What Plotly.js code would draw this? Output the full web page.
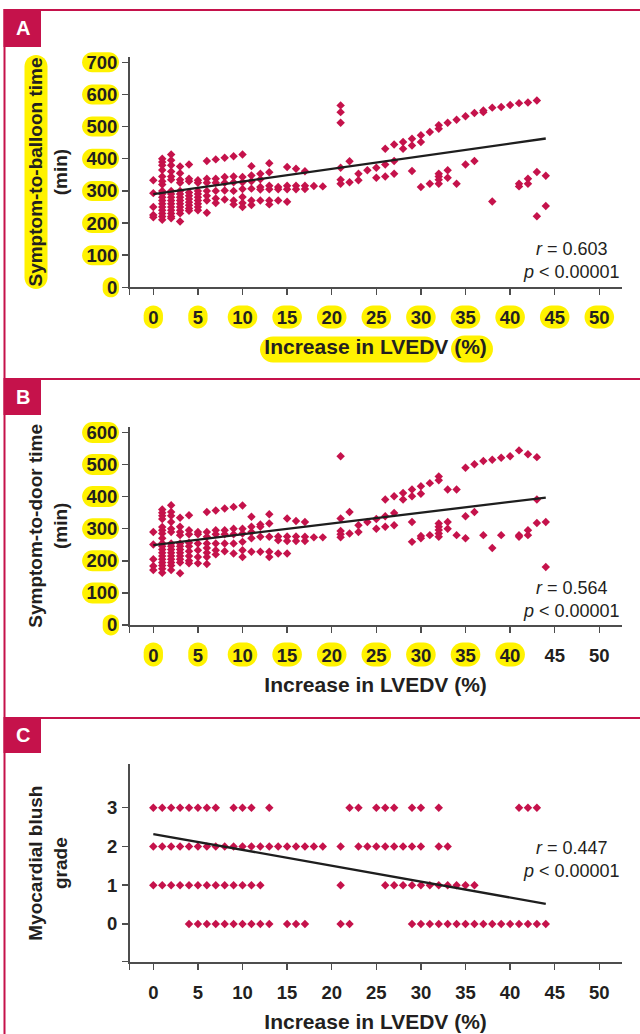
<!DOCTYPE html>
<html><head><meta charset="utf-8">
<script src="https://cdn.plot.ly/plotly-3.0.1.min.js"></script>
<style>html,body{margin:0;padding:0;background:#fff}#chart{width:640px;height:1034px}</style>
</head><body><div id="chart"></div>
<script>
// ---------- DATA ----------
// Panel A: symptom-to-balloon time (min) by increase in LVEDV (%)
const aX = [0,1,2,3,4,5,6,7,8,9,10,11,12,13,14,15,16,17,18,19,21,22,23,24,25,26,27,28,29,30,31,32,33,34,35,36,37,38,39,40,41,42,43,44];
const aY = [
 [333,293,250,225,218],
 [400,390,380,365,345,330,320,300,290,280,270,260,250,240,230,220,210],
 [413,395,380,360,345,335,300,290,280,270,260,250,240,230,220,215],
 [376,355,335,325,300,290,280,270,260,250,240,230,205],
 [382,338,330,295,285,275,265,255,245,238],
 [333,325,300,290,280,270,260,250,240],
 [393,338,325,300,285,270,232],
 [398,338,325,300,276,262],
 [403,343,325,301,273],
 [408,345,327,300,270,258],
 [413,343,327,306,281,262,250],
 [377,348,330,307,270,256],
 [353,336,312,304,270],
 [386,358,316,305,270,258],
 [312,305,270],
 [374,316,305,266],
 [369,316,305],
 [361,316,306],
 [315],
 [314],
 [566,545,512,372,335,322],
 [392,327],
 [353,333],
 [364],
 [372,341],
 [431,382,345],
 [444,393,353],
 [452,431],
 [462,441,362],
 [473,452,312],
 [483,322],
 [504,493,353,345,335,322],
 [512,364,341],
 [521,322],
 [532,382],
 [542,393],
 [550,545],
 [559,267],
 [561],
 [567],
 [573,322,314],
 [575,338,322],
 [581,359,221],
 [347,253]
];
const aFitX = [0, 44];
const aFitY = [290, 463];

// Panel B: symptom-to-door time (min)
const bX = [0,1,2,3,4,5,6,7,8,9,10,11,12,13,14,15,16,17,18,19,21,22,23,24,25,26,27,28,29,30,31,32,33,34,35,36,37,38,39,40,41,42,43,44];
const bY = [
 [290,251,205,184,171],
 [360,350,340,330,305,295,285,270,255,245,235,225,215,205,195,185,175,163],
 [373,352,340,321,300,290,254,245,235,225,215,205,195,185,171],
 [334,306,290,280,254,245,235,225,215,205,195,161],
 [342,295,283,256,245,230,215,200,192],
 [290,283,254,233,212,192],
 [352,290,275,254,240,225,212,190],
 [357,295,283,254,233,220],
 [363,295,283,254,230],
 [368,300,283,254,223],
 [372,300,285,259,233,212],
 [337,306,290,270,228],
 [313,306,275,228],
 [345,316,275,228,212],
 [276,264,223],
 [332,276,262,223],
 [324,276,262],
 [321,275,262],
 [273],
 [273],
 [526,332,293,283,273],
 [352,285],
 [311,290],
 [321],
 [330,300],
 [391,339,306],
 [401,349,311],
 [411,391],
 [422,401,321,259],
 [432,409,277,270],
 [442,280],
 [463,451,316,306,296,285,275],
 [422,321,300],
 [422,280],
 [490,339,270],
 [501,352],
 [511,280],
 [515,240],
 [521,280],
 [526],
 [544,280,275],
 [532,295,280],
 [523,391,318],
 [321,181]
];
const bFitX = [0, 44];
const bFitY = [249, 397];

// Panel C: myocardial blush grade (x positions per grade)
const cGrades = [3, 2, 1, 0];
const cXByGrade = [
 [0,1,2,3,4,5,6,7,9,10,11,13,22,23,25,26,27,29,30,32,41,42,43],
 [0,1,2,3,4,5,6,7,8,9,10,11,12,13,14,15,16,17,18,19,21,23,24,25,26,27,28,29,30,32,33],
 [0,1,2,3,4,5,6,7,8,9,10,11,12,21,26,27,28,29,30,31,32,33,34,35,36],
 [4,5,6,7,8,9,10,11,12,13,15,16,17,21,22,29,30,31,32,33,34,35,36,37,38,39,40,41,42,43,44]
];
const cFitX = [0, 44];
const cFitY = [2.32, 0.52];

const xTicks = [0,5,10,15,20,25,30,35,40,45,50];
const aYTicks = [0,100,200,300,400,500,600,700];
const bYTicks = [0,100,200,300,400,500,600];
const cYTicks = [0,1,2,3];

const statsA = ['0.603', '0.00001'];
const statsB = ['0.564', '0.00001'];
const statsC = ['0.447', '0.00001'];

// ---------- STYLE / GEOMETRY ----------
const W = 640, H = 1034;
const RED = '#c5124b', AXC = '#4d4d4d', TXT = '#231f20', YEL = '#fff200';
const FONT = 'Liberation Sans, Arial, Helvetica, sans-serif';
const X_PX = [129.5, 621.7];
const X_RANGE = [-2.67, 52.51];
const A_PX = [287.3, 56.7], A_RANGE = [0, 717.5];
const B_PX = [625.0, 426.7], B_RANGE = [0, 617.8];
const C_PX = [962.0, 764.3], C_RANGE = [-0.98, 4.118];

const px2fx = p => p / W;
const px2fy = p => 1 - p / H;
const xPx = v => X_PX[0] + (v - X_RANGE[0]) / (X_RANGE[1] - X_RANGE[0]) * (X_PX[1] - X_PX[0]);
const yPx = (v, P, R) => P[0] - (v - R[0]) / (R[1] - R[0]) * (P[0] - P[1]);

function flat(xs, ys) {
  const X = [], Y = [];
  xs.forEach((x, i) => ys[i].forEach(y => { X.push(x); Y.push(y); }));
  return {X, Y};
}
const A = flat(aX, aY), B = flat(bX, bY);
const CX = [], CY = [];
cGrades.forEach((g, i) => cXByGrade[i].forEach(x => { CX.push(x); CY.push(g); }));

const marker = {symbol: 'diamond', size: 6.5, color: RED, line: {width: 0}};
const fitLine = {color: '#1e1e1e', width: 2.3};

const traces = [
  {x: A.X, y: A.Y, xaxis: 'x', yaxis: 'y', type: 'scatter', mode: 'markers', marker, hoverinfo: 'skip'},
  {x: aFitX, y: aFitY, xaxis: 'x', yaxis: 'y', type: 'scatter', mode: 'lines', line: fitLine},
  {x: B.X, y: B.Y, xaxis: 'x2', yaxis: 'y2', type: 'scatter', mode: 'markers', marker, hoverinfo: 'skip'},
  {x: bFitX, y: bFitY, xaxis: 'x2', yaxis: 'y2', type: 'scatter', mode: 'lines', line: fitLine},
  {x: CX, y: CY, xaxis: 'x3', yaxis: 'y3', type: 'scatter', mode: 'markers', marker, hoverinfo: 'skip'},
  {x: cFitX, y: cFitY, xaxis: 'x3', yaxis: 'y3', type: 'scatter', mode: 'lines', line: fitLine}
];

const tickFont = {family: FONT, size: 18.5, color: TXT, weight: 'bold'};
const titleFont = {family: FONT, size: 21, color: TXT, weight: 'bold'};
const common = {
  showgrid: false, zeroline: false, showline: true, linecolor: AXC, linewidth: 1.5,
  ticks: 'outside', ticklen: 6, tickwidth: 1.5, tickcolor: AXC, tickfont: tickFont,
  fixedrange: true, tickmode: 'array'
};
const xDomain = [px2fx(X_PX[0]), px2fx(X_PX[1])];
function xAxis(anchor) {
  return Object.assign({}, common, {
    domain: xDomain, range: X_RANGE, anchor,
    tickvals: [X_RANGE[0] + 0.01].concat(xTicks),
    ticktext: [''].concat(xTicks.map(String)),
    ticklabelstandoff: 7,
    title: {text: 'Increase in LVEDV (%)', font: titleFont, standoff: 12}
  });
}
function yAxis(anchor, P, R, ticks, title, extra, standoff) {
  const tv = extra ? [R[0] + 0.01].concat(ticks) : ticks;
  const tt = extra ? [''].concat(ticks.map(String)) : ticks.map(String);
  return Object.assign({}, common, {
    domain: [px2fy(P[0]), px2fy(P[1])], range: R, anchor,
    tickvals: tv, ticktext: tt, ticklabelstandoff: 1,
    title: {text: title, font: {family: FONT, size: 19, color: TXT, weight: 'bold'}, standoff}
  });
}

// ---------- DECORATION ----------
function pill(cx, cy, w, h) {
  const r = Math.min(w, h) / 2, k = 0.5523 * r;
  const x0 = -w / 2, x1 = w / 2, y0 = -h / 2, y1 = h / 2;
  const path = `M${x0 + r},${y0} L${x1 - r},${y0} C${x1 - r + k},${y0} ${x1},${y0 + r - k} ${x1},${y0 + r} ` +
    `L${x1},${y1 - r} C${x1},${y1 - r + k} ${x1 - r + k},${y1} ${x1 - r},${y1} L${x0 + r},${y1} ` +
    `C${x0 + r - k},${y1} ${x0},${y1 - r + k} ${x0},${y1 - r} L${x0},${y0 + r} C${x0},${y0 + r - k} ${x0 + r - k},${y0} ${x0 + r},${y0} Z`;
  return {type: 'path', xref: 'paper', yref: 'paper', xsizemode: 'pixel', ysizemode: 'pixel',
    xanchor: px2fx(cx), yanchor: px2fy(cy), path, fillcolor: YEL, line: {width: 0}, layer: 'below'};
}
function line(x0, y0, x1, y1, w) {
  return {type: 'line', xref: 'paper', yref: 'paper', x0: px2fx(x0), y0: px2fy(y0), x1: px2fx(x1), y1: px2fy(y1),
    line: {color: RED, width: w}, layer: 'above'};
}
function box(x0, y0, x1, y1) {
  return {type: 'rect', xref: 'paper', yref: 'paper', x0: px2fx(x0), y0: px2fy(y0), x1: px2fx(x1), y1: px2fy(y1),
    fillcolor: RED, line: {width: 0}, layer: 'above'};
}

const shapes = [];
// frame lines and panel tabs
shapes.push(line(4.5, 9, 4.5, H, 2));
shapes.push(line(4, 10, W, 10, 2));
shapes.push(line(4, 379, W, 379, 2));
shapes.push(line(4, 718, W, 718, 2));
shapes.push(box(3.5, 9, 41, 47));
shapes.push(box(3.5, 378, 41, 415));
shapes.push(box(3.5, 717, 41, 753));

// yellow highlights
const DIG = 10.3;
aYTicks.forEach(v => { const w = DIG * String(v).length + 6; shapes.push(pill(119 - w / 2, yPx(v, A_PX, A_RANGE), w, 20)); });
xTicks.forEach(v => { const w = DIG * String(v).length + 9; shapes.push(pill(xPx(v), 317, w, 23)); });
bYTicks.forEach(v => { const w = DIG * String(v).length + 6; shapes.push(pill(119 - w / 2, yPx(v, B_PX, B_RANGE), w, 21)); });
xTicks.filter(v => v <= 40).forEach(v => { const w = DIG * String(v).length + 9; shapes.push(pill(xPx(v), 654.5, w, 24)); });
shapes.push(pill(36, (A_PX[0] + A_PX[1]) / 2, 23, 234));
shapes.push(pill(349, 349.5, 178, 26));
shapes.push(pill(472, 349, 42, 27));

// annotations
const statFont = {family: FONT, size: 18, color: TXT};
function stat(s, cy) {
  return {xref: 'paper', yref: 'paper', x: px2fx(571), y: px2fy(cy), xanchor: 'center', yanchor: 'middle',
    showarrow: false, align: 'center', font: statFont,
    text: `<i>r</i> = ${s[0]}<br><i>p</i> &lt; ${s[1]}`};
}
function tab(t, cy) {
  return {xref: 'paper', yref: 'paper', x: px2fx(22.5), y: px2fy(cy), xanchor: 'center', yanchor: 'middle',
    showarrow: false, text: t, font: {family: FONT, size: 20, color: '#ffffff', weight: 'bold'}};
}
const annotations = [stat(statsA, 260), stat(statsB, 599), stat(statsC, 859), tab('A', 28), tab('B', 397), tab('C', 735)];

const layout = {
  width: W, height: H, margin: {l: 0, r: 0, t: 0, b: 0},
  paper_bgcolor: '#ffffff', plot_bgcolor: 'rgba(0,0,0,0)', showlegend: false,
  font: {family: FONT, color: TXT},
  xaxis: xAxis('y'), yaxis: yAxis('x', A_PX, A_RANGE, aYTicks, 'Symptom-to-balloon time<br>(min)', false, 14),
  xaxis2: xAxis('y2'), yaxis2: yAxis('x2', B_PX, B_RANGE, bYTicks, 'Symptom-to-door time<br>(min)', false, 14),
  xaxis3: xAxis('y3'), yaxis3: yAxis('x3', C_PX, C_RANGE, cYTicks, 'Myocardial blush<br>grade', true, 34),
  shapes, annotations
};
Plotly.newPlot('chart', traces, layout, {staticPlot: true, displayModeBar: false});
</script></body></html>
